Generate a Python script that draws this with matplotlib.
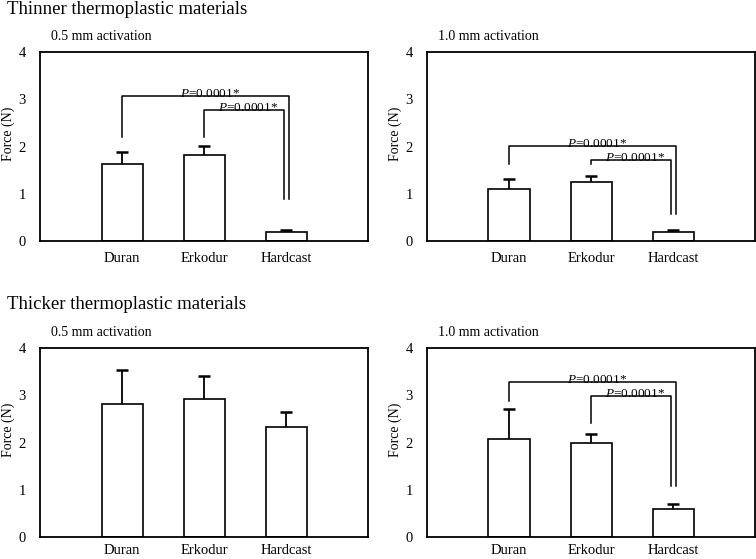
import matplotlib
matplotlib.use('Agg')
import matplotlib.pyplot as plt
import numpy as np

plt.rcParams['font.family'] = 'Liberation Serif'
plt.rcParams['mathtext.fontset'] = 'custom'
plt.rcParams['mathtext.rm'] = 'Liberation Serif'
plt.rcParams['mathtext.it'] = 'Liberation Serif:italic'

materials = ["Duran", "Erkodur", "Hardcast"]

thin_05_mean = [1.64, 1.81, 0.18]
thin_05_sd = [0.24, 0.21, 0.05]
thin_10_mean = [1.11, 1.25, 0.20]
thin_10_sd = [0.20, 0.12, 0.03]
thick_05_mean = [2.81, 2.92, 2.33]
thick_05_sd = [0.72, 0.48, 0.32]
thick_10_mean = [2.08, 1.98, 0.59]
thick_10_sd = [0.63, 0.20, 0.11]

p_label = r"$\it{P}$=0.0001*"

# brackets: (from bar, to bar, bar height, left leg end, right leg end)
thin_05_brackets = [(0, 2, 3.07, 2.21, 0.88), (1, 2, 2.77, 2.21, 0.88)]
thin_10_brackets = [(0, 2, 2.01, 1.62, 0.58), (1, 2, 1.72, 1.64, 0.58)]
thick_10_brackets = [(0, 2, 3.27, 2.87, 1.07), (1, 2, 2.98, 2.41, 1.07)]

W, H = 756, 559
fig = plt.figure(figsize=(W / 100, H / 100), dpi=100)


def panel(left, top, means, sds, subtitle, brackets, xpad=8):
    ax = fig.add_axes([left / W, 1 - (top + 189) / H, 328 / W, 189 / H])
    x = np.arange(1, len(materials) + 1)
    ax.bar(x, means, width=0.5, color='white', edgecolor='black', linewidth=1.2, zorder=2)
    eb = ax.errorbar(x, means, yerr=[np.zeros(len(sds)), sds], fmt='none', ecolor='black',
                     elinewidth=1.3, capsize=4, capthick=1.8, zorder=1)
    eb[1][0].set_visible(False)  # no lower caps
    ax.set_xlim(0, 4)
    ax.set_ylim(0, 4)
    ax.set_xticks(x)
    ax.set_xticklabels(materials, fontsize=10.5)
    ax.set_yticks([0, 1, 2, 3, 4])
    ax.tick_params(axis='both', length=0, labelsize=10.5)
    ax.tick_params(axis='y', pad=10)
    ax.tick_params(axis='x', pad=xpad)
    for s in ax.spines.values():
        s.set_linewidth(1.3)
    ax.set_ylabel("Force (N)", fontsize=10)
    ax.yaxis.set_label_coords(-0.075, 0.565)
    ax.text(0.035, 1.045, subtitle, transform=ax.transAxes, fontsize=10, va='bottom', ha='left')
    for k, (i, j, yb, yl, yr) in enumerate(brackets):
        xl = x[i]
        xr = x[j] + (0.04 if k == 0 else -0.02)
        ax.plot([xl, xl, xr, xr], [yl, yb, yb, yr], color='black', lw=1.1, zorder=3)
        ax.text((xl + xr) / 2 + 0.05, yb - 0.02, p_label, ha='center', va='baseline', fontsize=9.5)
    return ax


panel(40, 52, thin_05_mean, thin_05_sd, "0.5 mm activation", thin_05_brackets)
panel(427, 52, thin_10_mean, thin_10_sd, "1.0 mm activation", thin_10_brackets)
panel(40, 348, thick_05_mean, thick_05_sd, "0.5 mm activation", [], xpad=5)
panel(427, 348, thick_10_mean, thick_10_sd, "1.0 mm activation", thick_10_brackets, xpad=5)

fig.text(7 / W, 1 - 1 / H, "Thinner thermoplastic materials", fontsize=13.5, va='top', ha='left')
fig.text(7 / W, 1 - 296 / H, "Thicker thermoplastic materials", fontsize=13.5, va='top', ha='left')

fig.savefig("out.png", dpi=100)
